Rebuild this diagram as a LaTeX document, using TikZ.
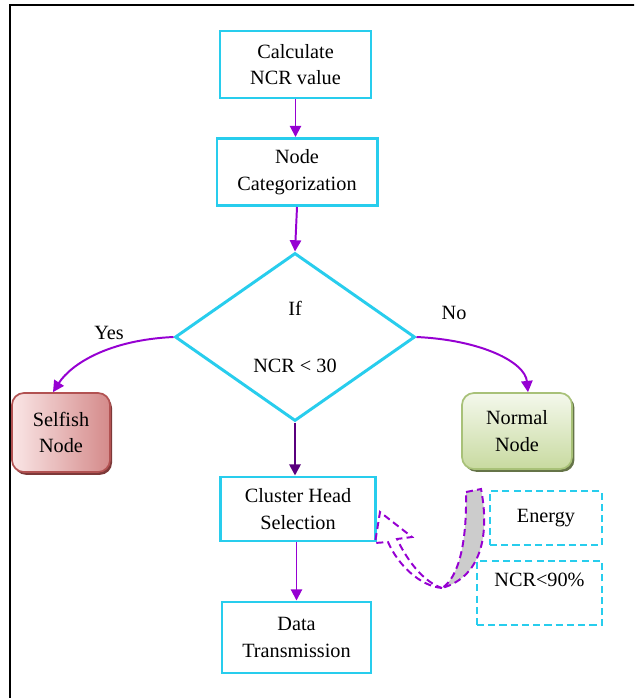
\documentclass[tikz,border=0pt]{standalone}
\usepackage{fontspec}
\setmainfont{Liberation Serif}
\usepackage{tikz}
\usetikzlibrary{shapes.geometric}
\usetikzlibrary{shadows}
\usetikzlibrary{arrows.meta}

\definecolor{boxcyan}{RGB}{40,205,237}
\definecolor{flowviolet}{RGB}{150,0,210}
\definecolor{selfishlight}{RGB}{250,230,230}
\definecolor{selfishdark}{RGB}{212,138,138}
\definecolor{selfishedge}{RGB}{178,82,82}
\definecolor{normallight}{RGB}{244,248,236}
\definecolor{normaldark}{RGB}{200,218,160}
\definecolor{normaledge}{RGB}{168,193,120}

\tikzset{
    block/.style={draw=boxcyan,line width=2.1pt,align=center,inner sep=2pt},
    note/.style={draw=boxcyan,line width=1.3pt,dash pattern=on 5pt off 3pt,align=center},
    flow/.style={draw=flowviolet,line width=1.4pt,-{Triangle[length=8pt,width=8pt]}},
    outcome/.style={rounded corners=0.3cm,line width=1.2pt,align=center},
}

\begin{document}
\begin{tikzpicture}[x=0.025cm,y=-0.025cm,font=\fontsize{14.4}{19}\selectfont]
    \useasboundingbox (0,0) rectangle (634,698);
    \clip (0,0) rectangle (634,698);
    \fill[white] (0,0) rectangle (634,698);
    \draw[line width=1.4pt] (10,5) rectangle (700,760);

    % main column
    \node[block,minimum width=3.775cm,minimum height=1.675cm] (calc) at (295.5,64.5) {Calculate\\NCR value};
    \node[block,minimum width=4cm,minimum height=1.675cm] (categ) at (297,172) {Node\\Categorization};
    \node[diamond,draw=boxcyan,line width=2.1pt,inner sep=0pt,align=center,
          minimum width=6cm,minimum height=4.2cm] (cond) at (295,337) {If\\[22pt]NCR < 30};
    \node[block,minimum width=3.875cm,minimum height=1.6cm] (cluster) at (298,509) {Cluster Head\\Selection};
    \node[block,minimum width=3.725cm,minimum height=1.775cm] (data) at (296.5,637.5) {Data\\Transmission};

    % the two outcomes
    \node[outcome,draw=selfishedge,left color=selfishlight,right color=selfishdark,
          drop shadow={shadow xshift=0.05cm,shadow yshift=-0.07cm,fill=selfishedge!70!black,opacity=1},
          minimum width=2.45cm,minimum height=1.975cm] (selfish) at (61,432.5) {Selfish\\Node};
    \node[outcome,draw=normaledge,top color=normallight,bottom color=normaldark,
          drop shadow={shadow xshift=0.06cm,shadow yshift=-0.07cm,fill=normaledge!60!black,opacity=1},
          minimum width=2.75cm,minimum height=1.9cm] (normal) at (517,431) {Normal\\Node};

    % criteria
    \node[note,minimum width=2.8cm,minimum height=1.35cm] (energy) at (546,518) {Energy};
    \node[note,minimum width=3.125cm,minimum height=1.6cm] (ncr) at (539.5,593) {NCR<90\%\\~};

    \node (yes) at (109,333) {Yes};
    \node (no) at (454,313) {No};

    \draw[flow] (calc.south) -- (calc.south |- categ.north);
    \draw[flow] (categ.south) -- (cond.north);
    \draw[flow] (cond.west) .. controls +(-65,3) and +(18,-28) .. ([xshift=-0.2cm]selfish.north);
    \draw[flow] (cond.east) .. controls +(65,3) and +(-3,-30) .. ([xshift=0.275cm]normal.north);
    \draw[flow,draw=flowviolet!60!black,line width=1.8pt] (cond.south) -- (cond.south |- cluster.north);
    \draw[flow] (data.north |- cluster.south) -- (data.north);

    % curved block arrow back to the cluster head box
    \filldraw[fill=black!20,draw=flowviolet,line width=1.4pt,dash pattern=on 5pt off 3pt]
        (466,492) -- (481,489) .. controls (489,530) and (484,576) .. (442,588)
        .. controls (458,578) and (467,545) .. cycle;
    \draw[flowviolet,line width=1.4pt,dash pattern=on 5pt off 3pt]
        (442,588) .. controls (420,586) and (398,565) .. (388,542) -- (375,543) -- (380,512)
        -- (412,537) -- (397,539) .. controls (408,562) and (424,582) .. (442,588);
\end{tikzpicture}
\end{document}
